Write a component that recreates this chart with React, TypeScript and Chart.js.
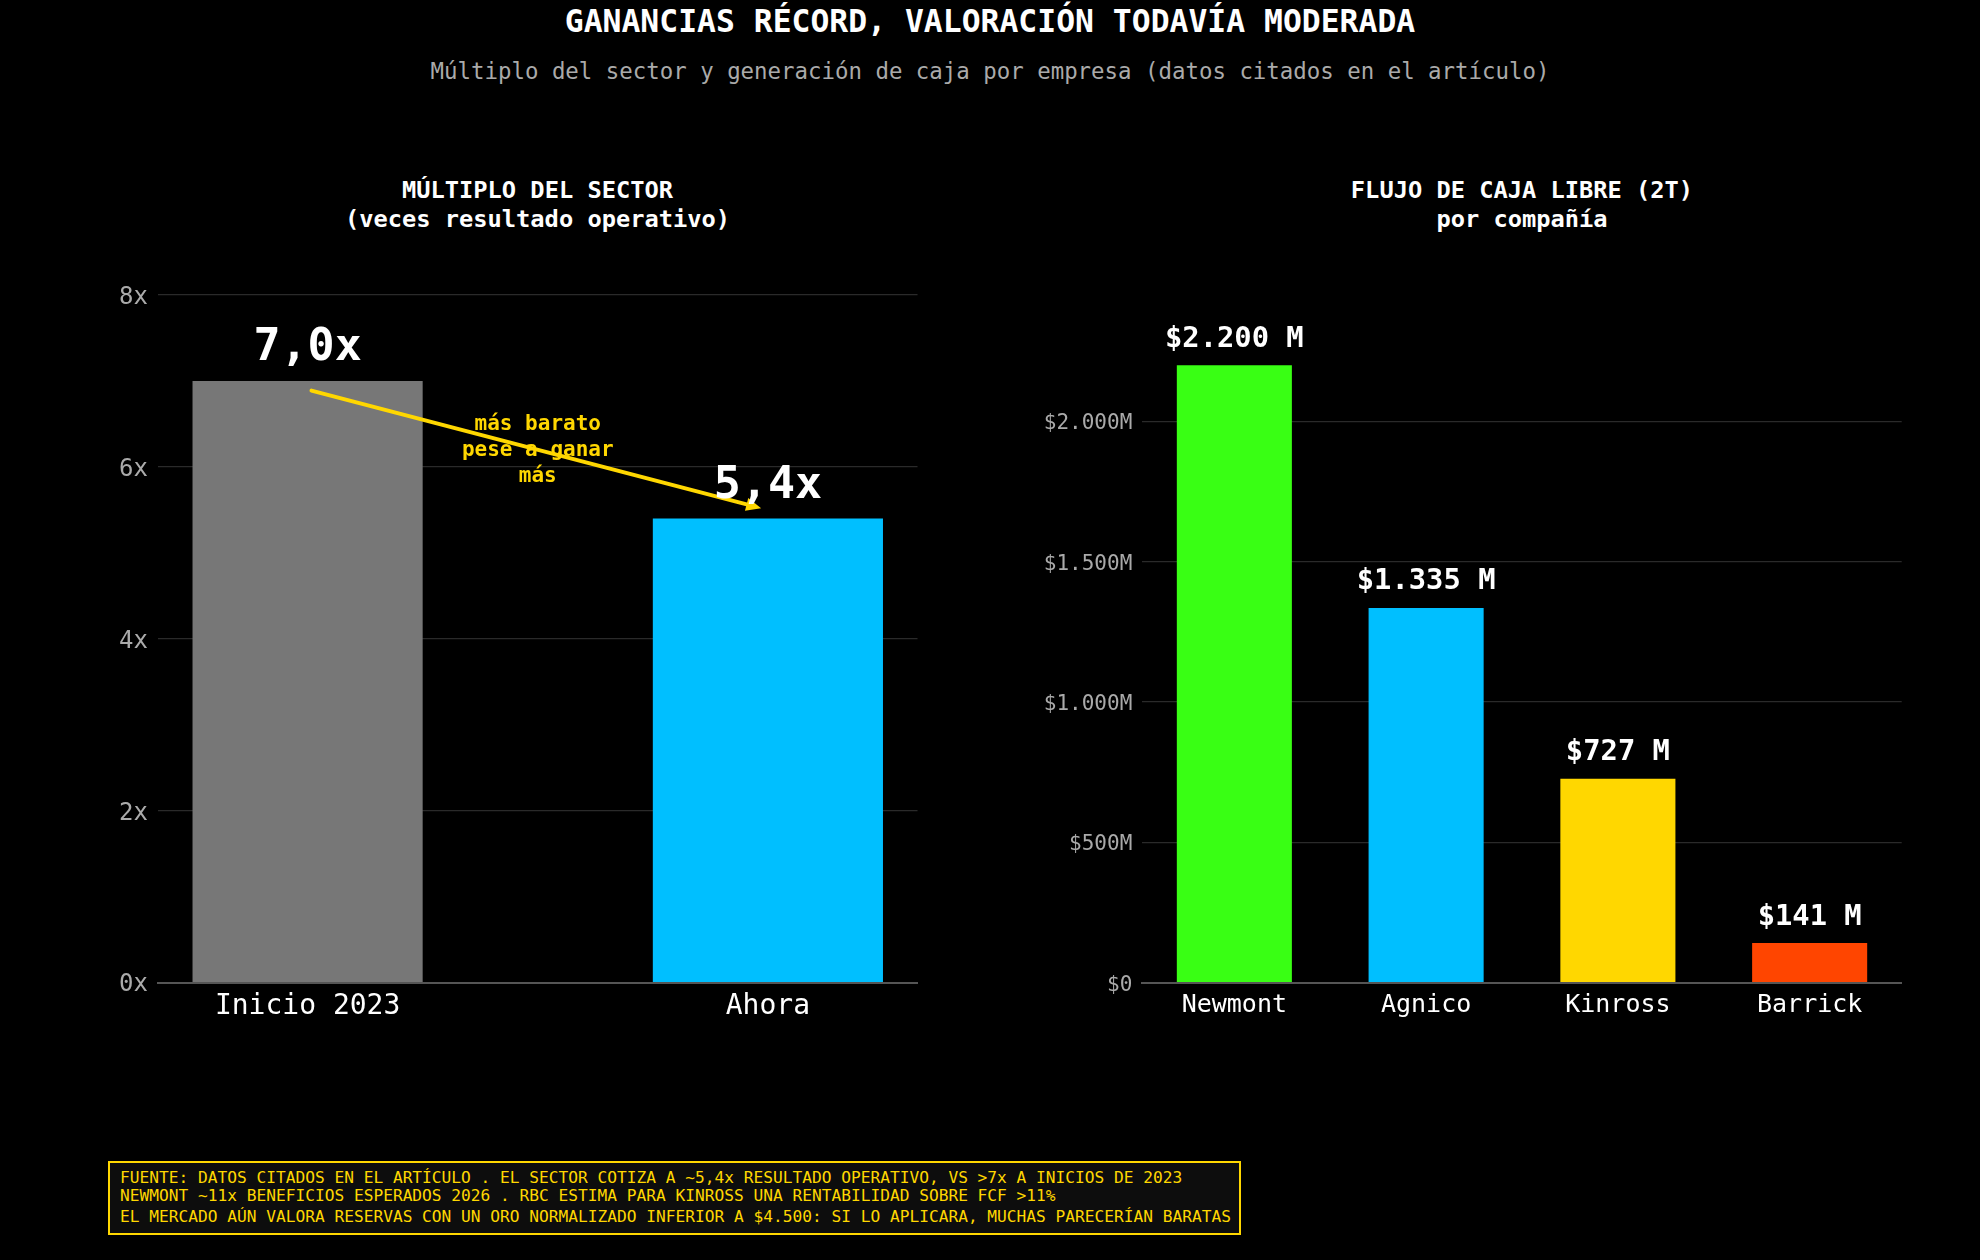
import { useEffect, useRef } from "react";
import { Chart, registerables, ChartConfiguration, Plugin } from "chart.js";

Chart.register(...registerables);

const FONT = "'DejaVu Sans Mono', monospace";

// left panel: sector multiple (times operating result)
const multipleLabels = ["Inicio 2023", "Ahora"];
const multipleValues = [7.0, 5.4];
const multipleColors = ["#777777", "#00BFFF"];
const multipleTicks = [0, 2, 4, 6, 8];
const arrowFrom = [0, 6.9];
const arrowTo = [1, 5.5];
const arrowNote = ["más barato", "pese a ganar", "más"];
const arrowNoteAt = [0.5, 6.13];

// right panel: free cash flow Q2 by company (US$ M)
const companies = ["Newmont", "Agnico", "Kinross", "Barrick"];
const fcfValues = [2200, 1335, 727, 141];
const fcfColors = ["#39FF14", "#00BFFF", "#FFD700", "#FF4500"];
const fcfTicks = [0, 500, 1000, 1500, 2000];

const footerLines = [
  "FUENTE: DATOS CITADOS EN EL ARTÍCULO . EL SECTOR COTIZA A ~5,4x RESULTADO OPERATIVO, VS >7x A INICIOS DE 2023",
  "NEWMONT ~11x BENEFICIOS ESPERADOS 2026 . RBC ESTIMA PARA KINROSS UNA RENTABILIDAD SOBRE FCF >11%",
  "EL MERCADO AÚN VALORA RESERVAS CON UN ORO NORMALIZADO INFERIOR A $4.500: SI LO APLICARA, MUCHAS PARECERÍAN BARATAS",
];

const thousands = (v: number) => String(v).replace(/\B(?=(\d{3})+(?!\d))/g, ".");
const oneDecimal = (v: number) => v.toFixed(1).replace(".", ",");

const valueLabels = (fmt: (v: number) => string, size: number, gap: number): Plugin<"bar"> => ({
  id: "valueLabels",
  afterDatasetsDraw(chart) {
    const { ctx } = chart;
    const meta = chart.getDatasetMeta(0);
    ctx.save();
    ctx.font = `bold ${size}px ${FONT}`;
    ctx.fillStyle = "#ffffff";
    ctx.textAlign = "center";
    ctx.textBaseline = "alphabetic";
    meta.data.forEach((bar, i) => {
      const v = (chart.data.datasets[0].data[i] as any).y as number;
      ctx.fillText(fmt(v), bar.x, bar.y - gap);
    });
    ctx.restore();
  },
});

const arrowPlugin: Plugin<"bar"> = {
  id: "arrowNote",
  afterDatasetsDraw(chart) {
    const { ctx } = chart;
    const x = chart.scales.x;
    const y = chart.scales.y;
    const gold = "#FFD700";

    ctx.save();
    ctx.font = `bold 21px ${FONT}`;
    ctx.fillStyle = gold;
    ctx.textAlign = "center";
    ctx.textBaseline = "alphabetic";
    const nx = x.getPixelForValue(arrowNoteAt[0]);
    const ny = y.getPixelForValue(arrowNoteAt[1]);
    arrowNote.forEach((line, i) => ctx.fillText(line, nx, ny + (i - 1) * 26));

    const x0 = x.getPixelForValue(arrowFrom[0]);
    const y0 = y.getPixelForValue(arrowFrom[1]);
    const x1 = x.getPixelForValue(arrowTo[0]);
    const y1 = y.getPixelForValue(arrowTo[1]);
    const len = Math.hypot(x1 - x0, y1 - y0);
    const ux = (x1 - x0) / len;
    const uy = (y1 - y0) / len;
    const sx = x0 + ux * 4;
    const sy = y0 + uy * 4;
    const tx = x1 - ux * 7;
    const ty = y1 - uy * 7;
    const head = 15;
    const half = 6.5;
    const bx = tx - ux * head;
    const by = ty - uy * head;

    ctx.strokeStyle = gold;
    ctx.lineWidth = 4;
    ctx.lineCap = "round";
    ctx.beginPath();
    ctx.moveTo(sx, sy);
    ctx.lineTo(bx + ux * 2, by + uy * 2);
    ctx.stroke();
    ctx.beginPath();
    ctx.moveTo(tx, ty);
    ctx.lineTo(bx - uy * half, by + ux * half);
    ctx.lineTo(bx + uy * half, by - ux * half);
    ctx.closePath();
    ctx.fill();
    ctx.restore();
  },
};

type PanelSpec = {
  labels: string[];
  values: number[];
  colors: string[];
  ticks: number[];
  yMax: number;
  xMin: number;
  xMax: number;
  barPct: number;
  yAxisWidth: number;
  padRight: number;
  yTickSize: number;
  xTickSize: number;
  tickFmt: (v: number) => string;
  plugins: Plugin<"bar">[];
};

function makeConfig(p: PanelSpec): ChartConfiguration<"bar"> {
  return {
    type: "bar",
    data: {
      datasets: [
        {
          data: p.values.map((v, i) => ({ x: i, y: v })) as any,
          backgroundColor: p.colors,
          borderWidth: 0,
          barPercentage: p.barPct,
          categoryPercentage: 1,
        },
      ],
    },
    options: {
      responsive: false,
      animation: false,
      layout: { padding: { top: 45, right: p.padRight, bottom: 0, left: 0 } },
      plugins: {
        legend: { display: false },
        tooltip: { enabled: false },
      },
      scales: {
        x: {
          type: "linear",
          min: p.xMin,
          max: p.xMax,
          offset: false,
          grid: { display: false, drawTicks: false },
          border: { display: true, color: "#555555", width: 2 },
          afterBuildTicks: (axis) => {
            axis.ticks = p.labels.map((_, i) => ({ value: i }));
          },
          afterFit: (axis) => {
            axis.height = 67.3;
          },
          ticks: {
            autoSkip: false,
            maxRotation: 0,
            padding: 7.5,
            color: "#ffffff",
            font: { family: FONT, size: p.xTickSize },
            callback: (v) => p.labels[Number(v)] ?? "",
          },
        },
        y: {
          type: "linear",
          min: 0,
          max: p.yMax,
          grid: { color: "#2a2a2a", lineWidth: 1.3, drawTicks: false },
          border: { display: false },
          afterBuildTicks: (axis) => {
            axis.ticks = p.ticks.map((value) => ({ value }));
          },
          afterFit: (axis) => {
            axis.width = p.yAxisWidth;
          },
          ticks: {
            padding: 10,
            labelOffset: 2.5,
            color: "#aaaaaa",
            font: { family: FONT, size: p.yTickSize },
            callback: (v) => p.tickFmt(Number(v)),
          },
        },
      },
    },
    plugins: p.plugins,
  };
}

function Panel({ left, spec }: { left: number; spec: PanelSpec }) {
  const canvasRef = useRef<HTMLCanvasElement>(null);

  useEffect(() => {
    if (!canvasRef.current) return;
    const chart = new Chart(canvasRef.current, makeConfig(spec));
    return () => {
      chart.destroy();
    };
  }, []);

  return (
    <canvas
      ref={canvasRef}
      width={990}
      height={800}
      style={{ position: "absolute", left, top: 250, width: 990, height: 800 }}
    />
  );
}

function Label({
  x,
  baseline,
  size,
  color,
  bold,
  text,
}: {
  x: number;
  baseline: number;
  size: number;
  color: string;
  bold?: boolean;
  text: string;
}) {
  return (
    <div
      style={{
        position: "absolute",
        left: x - 1000,
        width: 2000,
        top: baseline - 0.846 * size,
        fontSize: size,
        lineHeight: `${size}px`,
        fontWeight: bold ? 700 : 400,
        fontFamily: FONT,
        color,
        textAlign: "center",
        whiteSpace: "pre",
      }}
    >
      {text}
    </div>
  );
}

const leftSpec: PanelSpec = {
  labels: multipleLabels,
  values: multipleValues,
  colors: multipleColors,
  ticks: multipleTicks,
  yMax: 8,
  xMin: -0.325,
  xMax: 1.325,
  barPct: 0.5,
  yAxisWidth: 158,
  padRight: 72.5,
  yTickSize: 24,
  xTickSize: 28,
  tickFmt: (v) => `${v}x`,
  plugins: [arrowPlugin, valueLabels((v) => `${oneDecimal(v)}x`, 45, 21)],
};

const rightSpec: PanelSpec = {
  labels: companies,
  values: fcfValues,
  colors: fcfColors,
  ticks: fcfTicks,
  yMax: 2450,
  xMin: -0.48,
  xMax: 3.48,
  barPct: 0.6,
  yAxisWidth: 152.3,
  padRight: 78.3,
  yTickSize: 21,
  xTickSize: 25,
  tickFmt: (v) => (v === 0 ? "$0" : `$${thousands(v)}M`),
  plugins: [valueLabels((v) => `$${thousands(v)} M`, 28.8, 18.5)],
};

export default function App() {
  return (
    <div
      style={{
        position: "fixed",
        left: 0,
        top: 0,
        width: 1980,
        height: 1260,
        background: "#000000",
        overflow: "hidden",
        fontFamily: FONT,
      }}
    >
      <Label x={990} baseline={32.3} size={31.4} color="#ffffff" bold text="GANANCIAS RÉCORD, VALORACIÓN TODAVÍA MODERADA" />
      <Label
        x={990}
        baseline={79}
        size={22.4}
        color="#aaaaaa"
        text="Múltiplo del sector y generación de caja por empresa (datos citados en el artículo)"
      />
      <Label x={537.5} baseline={199} size={23.7} color="#ffffff" bold text="MÚLTIPLO DEL SECTOR" />
      <Label x={537.5} baseline={228.5} size={23.7} color="#ffffff" bold text="(veces resultado operativo)" />
      <Label x={1522} baseline={199} size={23.7} color="#ffffff" bold text="FLUJO DE CAJA LIBRE (2T)" />
      <Label x={1522} baseline={228.5} size={23.7} color="#ffffff" bold text="por compañía" />

      <Panel left={0} spec={leftSpec} />
      <Panel left={990} spec={rightSpec} />

      <div
        style={{
          position: "absolute",
          left: 108.3,
          top: 1160.7,
          width: 1133,
          height: 74.6,
          boxSizing: "border-box",
          border: "2px solid #FFD700",
          background: "#0d0d0d",
        }}
      />
      {footerLines.map((line, i) => (
        <div
          key={i}
          style={{
            position: "absolute",
            left: 120,
            top: [1183.3, 1201.7, 1222.7][i] - 0.846 * 16.2,
            fontSize: 16.2,
            lineHeight: "16.2px",
            fontFamily: FONT,
            color: "#FFD700",
            whiteSpace: "pre",
          }}
        >
          {line}
        </div>
      ))}
    </div>
  );
}
